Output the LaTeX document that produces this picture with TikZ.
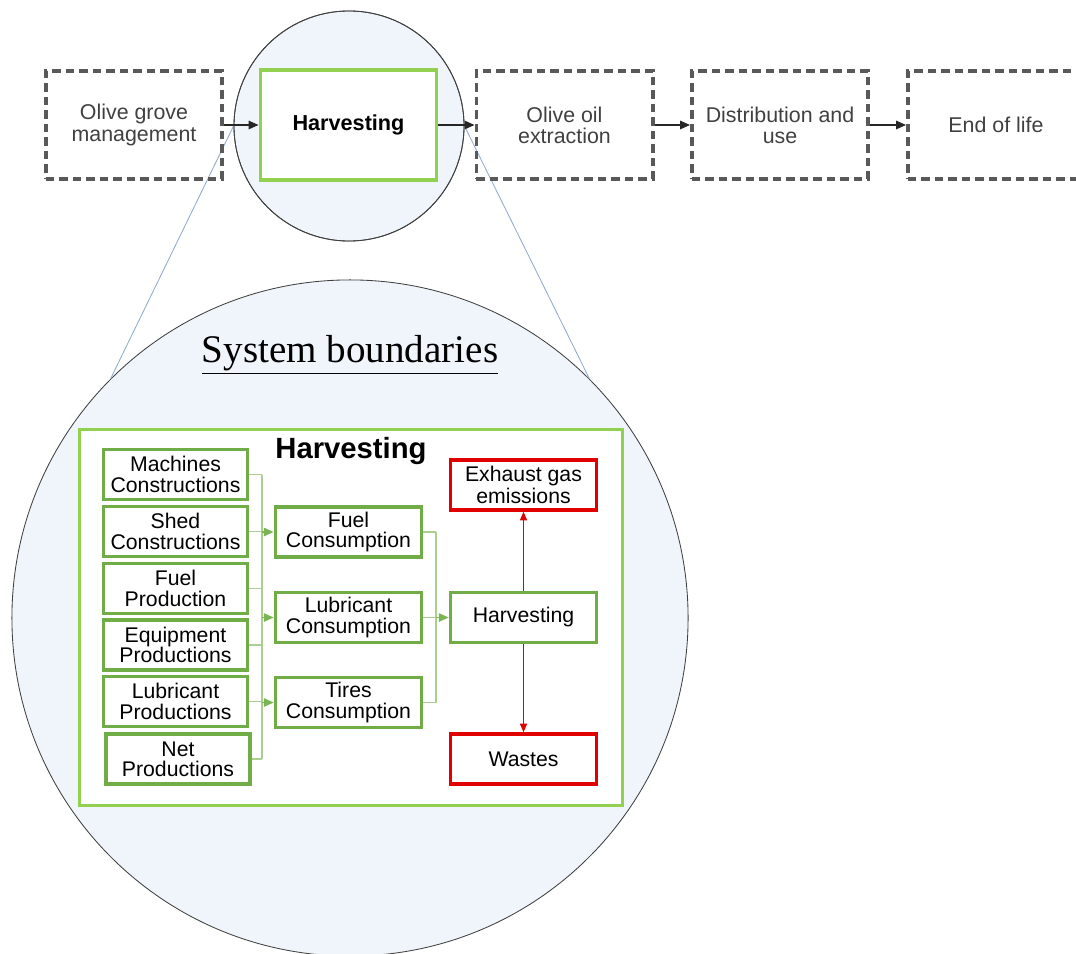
\documentclass[tikz,border=0pt]{standalone}
\usepackage{fontspec}
\setmainfont{Liberation Sans}
\newfontfamily\bndfont{Liberation Serif}
\usetikzlibrary{arrows.meta}

\definecolor{dashgray}{HTML}{595959}
\definecolor{textgray}{HTML}{404040}
\definecolor{lightgreen}{HTML}{92D050}
\definecolor{darkgreen}{HTML}{70AD47}
\definecolor{busgreen}{HTML}{A9D08E}
\definecolor{outred}{HTML}{E00000}
\definecolor{lensfill}{HTML}{F0F5FB}
\definecolor{lensline}{HTML}{8FAACC}

\tikzset{
  stage/.style={draw=dashgray, line width=2.8pt, dash pattern=on 6pt off 3.6pt,
    minimum width=4.4cm, minimum height=2.7cm, inner sep=1pt, align=center,
    text=textgray, font=\fontsize{15.2}{15}\selectfont},
  focus/.style={draw=lightgreen, fill=white, line width=2.8pt, minimum width=4.4cm,
    minimum height=2.75cm, align=center, font=\bfseries\fontsize{15.4}{15}\selectfont},
  lens/.style={circle, draw=black!75, line width=0.6pt, fill=lensfill, inner sep=0pt},
  proc/.style={draw=darkgreen, fill=white, line width=2.6pt, minimum width=3.6cm,
    minimum height=1.25cm, inner sep=1pt, align=center, font=\fontsize{15.1}{14.5}\selectfont},
  waste/.style={proc, draw=outred},
  link/.style={busgreen, line width=1pt},
  linkto/.style={link, -{Triangle[length=7pt,width=6pt]}, darkgreen!80!busgreen},
  redlink/.style={outred, line width=0.8pt, -{Triangle[length=6pt,width=5pt]}},
  toplink/.style={black!85, line width=1pt, -{Triangle[length=7pt,width=6pt]}}
}

\begin{document}
\begin{tikzpicture}[x=0.025cm,y=-0.025cm]
    \clip (0,0) rectangle (1076,953);
    % Life cycle stages
    \coordinate (Grove)   at (134,125);
    \coordinate (Harv)    at (348.5,125);
    \coordinate (Extract) at (564.5,125);
    \coordinate (Distrib) at (780,125);
    \coordinate (EndLife) at (996,125);
    % Inner processes
    \coordinate (MachC) at (175.5,474.5);
    \coordinate (ShedC) at (175.5,531.5);
    \coordinate (FuelP) at (175.5,588.5);
    \coordinate (EquiP) at (175.5,645);
    \coordinate (LubrP) at (175.5,701.5);
    \coordinate (NetP)  at (178,759);
    \coordinate (FuelC) at (348.5,532);
    \coordinate (LubrC) at (348.5,617.5);
    \coordinate (TireC) at (348.5,702.5);
    \coordinate (HarvP) at (523.5,617.5);
    \coordinate (Exhst) at (523.5,485);
    \coordinate (Waste) at (523.5,759);
    % Magnifier circles
    \node[lens, minimum size=5.75cm] (zoomS) at (349,126) {};
    \node[lens, minimum size=16.9cm] (zoomB) at (350,618) {};
    \draw[lensline, line width=0.6pt] (zoomS.west) -- (zoomB.135);
    \draw[lensline, line width=0.6pt] (zoomS.east) -- (zoomB.45);
    \node[lens, fill=none, minimum size=5.75cm] at (349,126) {};
    % Stages
    \node(og) at (Grove)   [stage] {Olive grove\\management};
    \node(hv) at (Harv)    [focus] {Harvesting};
    \node(oe) at (Extract) [stage] {Olive oil\\extraction};
    \node(du) at (Distrib) [stage] {Distribution and\\use};
    \node(el) at (EndLife) [stage] {End of life};
    \draw[toplink] (og) -- (hv);
    \draw[toplink] (hv) -- (oe);
    \draw[toplink] (oe) -- (du);
    \draw[toplink] (du) -- (el);
    % System boundaries
    \node(sb) at (350,355) {\bndfont\fontsize{27.8}{30}\selectfont\underline{System boundaries}};
    \node(box) at (351,617.5) [draw=lightgreen, fill=white, line width=2.1pt,
        minimum width=13.55cm, minimum height=9.375cm] {};
    \node(ttl) at (351,451) {\bfseries\fontsize{20.8}{22}\selectfont Harvesting};
    % Processes
    \node(mc) at (MachC) [proc] {Machines\\Constructions};
    \node(sc) at (ShedC) [proc] {Shed\\Constructions};
    \node(fp) at (FuelP) [proc] {Fuel\\Production};
    \node(ep) at (EquiP) [proc] {Equipment\\Productions};
    \node(lp) at (LubrP) [proc] {Lubricant\\Productions};
    \node(np) at (NetP)  [proc] {Net\\Productions};
    \node(fc) at (FuelC) [proc, minimum width=3.65cm] {Fuel\\Consumption};
    \node(lc) at (LubrC) [proc, minimum width=3.65cm] {Lubricant\\Consumption};
    \node(tc) at (TireC) [proc, minimum width=3.65cm] {Tires\\Consumption};
    \node(hp) at (HarvP) [proc, minimum width=3.65cm] {Harvesting};
    \node(ex) at (Exhst) [waste, minimum width=3.65cm, font=\fontsize{15.1}{12}\selectfont] {Exhaust gas\\emissions};
    \node(ws) at (Waste) [waste, minimum width=3.65cm] {Wastes};
    % Connections
    \coordinate (busL) at (262,0);
    \coordinate (busR) at (436,0);
    \foreach \n in {mc,sc,fp,ep,lp,np}
        \draw[link] (\n.east) -- (\n.east -| busL);
    \draw[link] (mc.east -| busL) -- (np.east -| busL);
    \foreach \n in {fc,lc,tc}
        \draw[linkto] (\n.west -| busL) -- (\n.west);
    \foreach \n in {fc,lc,tc}
        \draw[link] (\n.east) -- (\n.east -| busR);
    \draw[link] (fc.east -| busR) -- (tc.east -| busR);
    \draw[linkto] (hp.west -| busR) -- (hp.west);
    \draw[redlink] (hp) -- (ex);
    \draw[redlink] (hp) -- (ws);
\end{tikzpicture}
\end{document}
